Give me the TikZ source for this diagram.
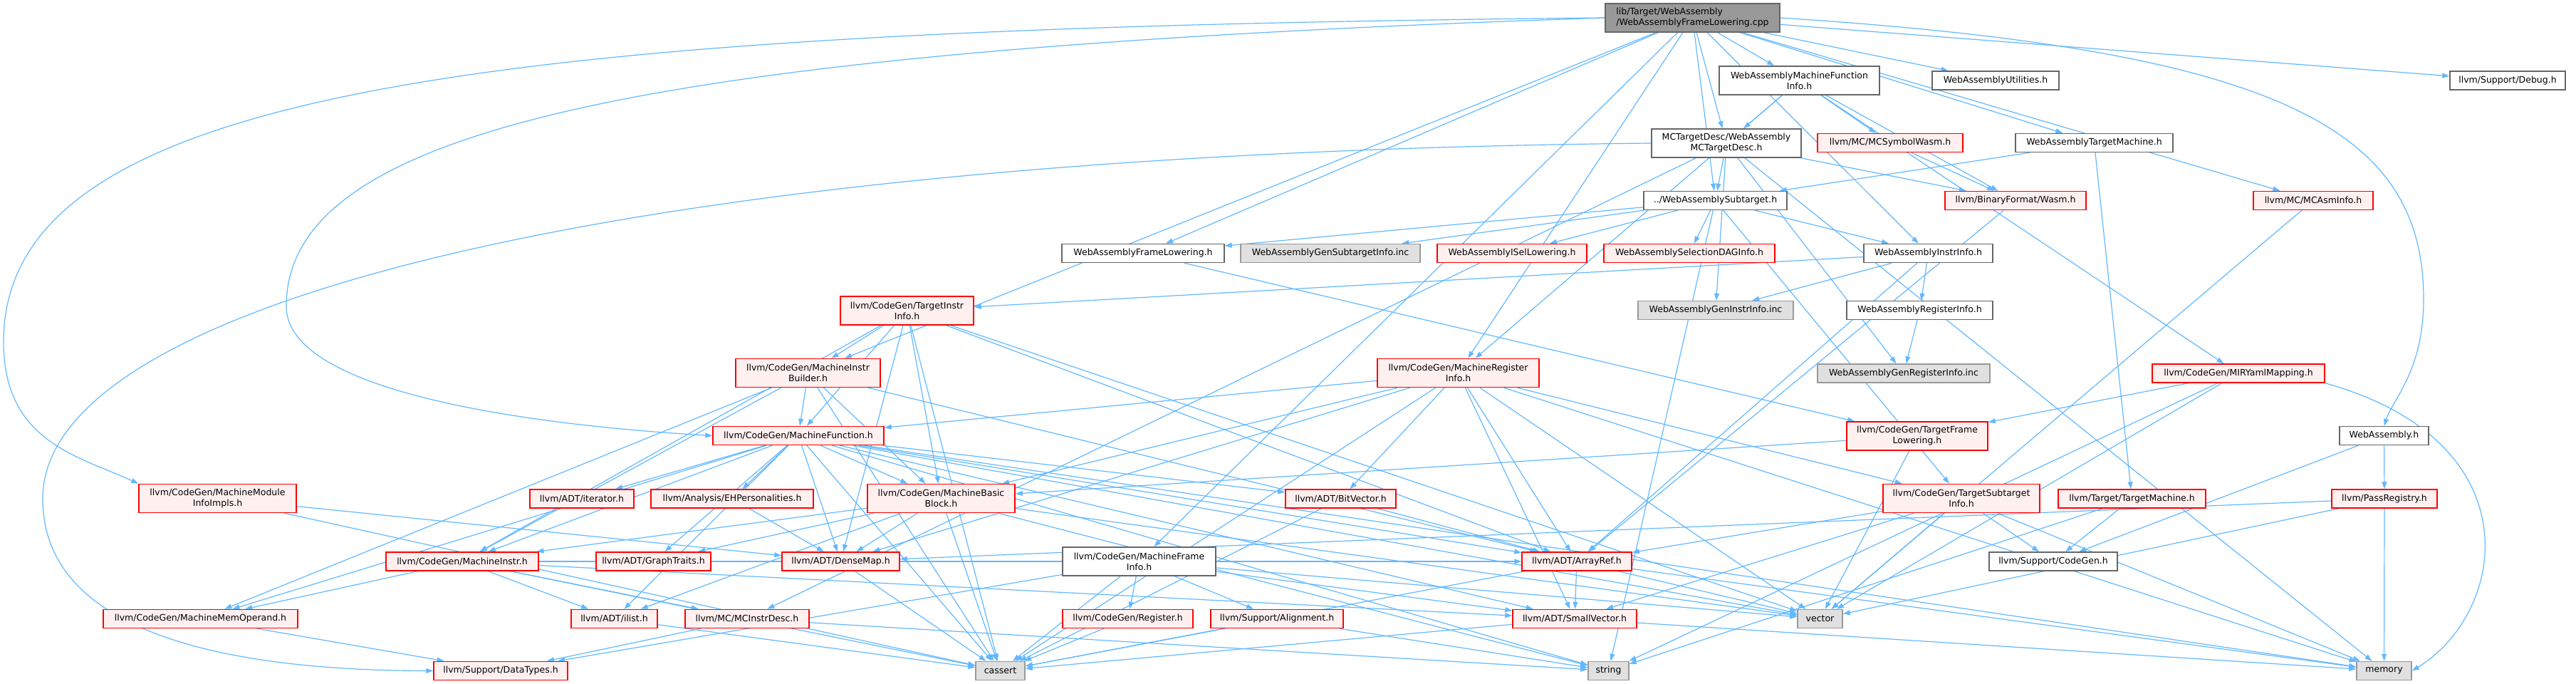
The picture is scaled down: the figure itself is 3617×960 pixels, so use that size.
\documentclass[tikz,border=0pt]{standalone}
\usepackage{fontspec}
\setmainfont{DejaVu Sans}
\usetikzlibrary{arrows.meta, backgrounds}
\definecolor{EdgeBlue}{HTML}{63B8FF}
\definecolor{BoxLine}{HTML}{666666}
\definecolor{RootFill}{HTML}{999999}
\definecolor{SysFill}{HTML}{E0E0E0}
\definecolor{SysLine}{HTML}{999999}
\definecolor{TruncFill}{HTML}{FFF0F0}
\definecolor{TruncLine}{HTML}{FF0000}
\tikzset{
    hdr/.style={draw=BoxLine, fill=white, line width=1.5pt, inner sep=0pt,
        minimum height=26pt, align=center, font=\fontsize{12.5}{15}\selectfont},
    twoline/.style={minimum height=40pt},
    rootfile/.style={hdr, twoline, fill=RootFill, align=left},
    trunc/.style={hdr, draw=TruncLine, fill=TruncFill},
    sys/.style={hdr, draw=SysLine, fill=SysFill},
    dep/.style={draw=EdgeBlue, line width=1.2pt, -{Triangle[length=10pt, width=7pt]}}
}

\begin{document}
\begin{tikzpicture}[x=1pt, y=-1pt]
\useasboundingbox (0,0) rectangle (3617,960);

% row 0 .. 3
\node[rootfile, minimum width=245pt] (root) at (2376.5,25) {lib/Target/WebAssembly\\/WebAssemblyFrameLowering.cpp};
\node[hdr, twoline, minimum width=225pt] (mfi) at (2526.5,113) {WebAssemblyMachineFunction\\Info.h};
\node[hdr, minimum width=178pt] (util) at (2802,113) {WebAssemblyUtilities.h};
\node[hdr, minimum width=162pt] (debug) at (3521,113) {llvm/Support/Debug.h};
\node[hdr, twoline, minimum width=210pt] (mcdesc) at (2424,201) {MCTargetDesc/WebAssembly\\MCTargetDesc.h};
\node[trunc, minimum width=204pt] (symwasm) at (2654,200.5) {llvm/MC/MCSymbolWasm.h};
\node[hdr, minimum width=221pt] (tm) at (2940.5,200.5) {WebAssemblyTargetMachine.h};
\node[hdr, minimum width=201pt] (subtarget) at (2408.5,281.5) {../WebAssemblySubtarget.h};
\node[trunc, minimum width=198pt] (wasm) at (2830,281.5) {llvm/BinaryFormat/Wasm.h};
\node[trunc, minimum width=168pt] (asminfo) at (3248,281.5) {llvm/MC/MCAsmInfo.h};

% row 4 .. 7
\node[hdr, minimum width=228pt] (wfl) at (1605,355.5) {WebAssemblyFrameLowering.h};
\node[sys, minimum width=252pt] (gensub) at (1868,355.5) {WebAssemblyGenSubtargetInfo.inc};
\node[trunc, minimum width=210pt] (isel) at (2123,355.5) {WebAssemblyISelLowering.h};
\node[trunc, minimum width=240pt] (seldag) at (2372,355.5) {WebAssemblySelectionDAGInfo.h};
\node[hdr, minimum width=181pt] (instrinfo) at (2707.5,355.5) {WebAssemblyInstrInfo.h};
\node[trunc, twoline, minimum width=187pt] (tii) at (1273.5,436) {llvm/CodeGen/TargetInstr\\Info.h};
\node[sys, minimum width=218pt] (geninstr) at (2409,435.5) {WebAssemblyGenInstrInfo.inc};
\node[hdr, minimum width=205pt] (reginfo) at (2695.5,435.5) {WebAssemblyRegisterInfo.h};
\node[trunc, twoline, minimum width=203pt] (mib) at (1134.5,523.5) {llvm/CodeGen/MachineInstr\\Builder.h};
\node[trunc, twoline, minimum width=227pt] (mri) at (2047.5,523.5) {llvm/CodeGen/MachineRegister\\Info.h};
\node[sys, minimum width=242pt] (genreg) at (2673,524) {WebAssemblyGenRegisterInfo.inc};
\node[trunc, minimum width=242pt] (miryaml) at (3143,524) {llvm/CodeGen/MIRYamlMapping.h};
\node[trunc, minimum width=240pt] (mf) at (1121,611.5) {llvm/CodeGen/MachineFunction.h};
\node[trunc, twoline, minimum width=198pt] (tfl) at (2692,612) {llvm/CodeGen/TargetFrame\\Lowering.h};
\node[hdr, minimum width=125pt] (wa) at (3347.5,611.5) {WebAssembly.h};

% row 8 .. 11
\node[trunc, twoline, minimum width=221pt] (mmii) at (305.5,699.5) {llvm/CodeGen/MachineModule\\InfoImpls.h};
\node[trunc, minimum width=146pt] (iter) at (817,700) {llvm/ADT/iterator.h};
\node[trunc, minimum width=228pt] (ehp) at (1028,700) {llvm/Analysis/EHPersonalities.h};
\node[trunc, twoline, minimum width=207pt] (mbb) at (1321.5,699.5) {llvm/CodeGen/MachineBasic\\Block.h};
\node[trunc, minimum width=155pt] (bitvec) at (1882.5,700) {llvm/ADT/BitVector.h};
\node[trunc, twoline, minimum width=220pt] (tsi) at (2754,699.5) {llvm/CodeGen/TargetSubtarget\\Info.h};
\node[trunc, minimum width=207pt] (ttm) at (2993.5,700) {llvm/Target/TargetMachine.h};
\node[trunc, minimum width=148pt] (pass) at (3348,700) {llvm/PassRegistry.h};
\node[trunc, minimum width=214pt] (mi) at (649,788) {llvm/CodeGen/MachineInstr.h};
\node[trunc, minimum width=161pt] (graph) at (917.5,788) {llvm/ADT/GraphTraits.h};
\node[trunc, minimum width=165pt] (densemap) at (1180.5,788) {llvm/ADT/DenseMap.h};
\node[hdr, twoline, minimum width=215pt] (frameinfo) at (1599.5,788) {llvm/CodeGen/MachineFrame\\Info.h};
\node[trunc, minimum width=154pt] (arrayref) at (2214,788) {llvm/ADT/ArrayRef.h};
\node[hdr, minimum width=180pt] (cg) at (2883,788) {llvm/Support/CodeGen.h};
\node[trunc, minimum width=273pt] (mmo) at (281.5,868.5) {llvm/CodeGen/MachineMemOperand.h};
\node[trunc, minimum width=121pt] (ilist) at (862.5,868.5) {llvm/ADT/ilist.h};
\node[trunc, minimum width=174pt] (mcid) at (1049,868.5) {llvm/MC/MCInstrDesc.h};
\node[trunc, minimum width=183pt] (reg) at (1583.5,868.5) {llvm/CodeGen/Register.h};
\node[trunc, minimum width=186pt] (align) at (1793,868.5) {llvm/Support/Alignment.h};
\node[trunc, minimum width=174pt] (smallvec) at (2211,868.5) {llvm/ADT/SmallVector.h};
\node[sys, minimum width=63pt] (vector) at (2555.5,868.5) {vector};
\node[trunc, minimum width=188pt] (datatypes) at (703,941.5) {llvm/Support/DataTypes.h};
\node[sys, minimum width=69pt] (cassert) at (1404.5,941.5) {cassert};
\node[sys, minimum width=57pt] (string) at (2258.5,941.5) {string};
\node[sys, minimum width=77pt] (memory) at (3347.5,941.5) {memory};

\begin{scope}[on background layer]
\foreach \src/\dst in {root/mfi, root/mcdesc, root/subtarget, root/util, root/debug, root/tm,
    root/asminfo, root/instrinfo, root/wfl, root/mib, root/mri, root/frameinfo,
    mfi/mcdesc, mfi/symwasm, mfi/wasm, mfi/miryaml, mfi/mri,
    mcdesc/subtarget, mcdesc/wasm, mcdesc/mcid, mcdesc/memory, mcdesc/geninstr, mcdesc/genreg,
    tm/subtarget, tm/ttm, symwasm/wasm,
    subtarget/wfl, subtarget/gensub, subtarget/isel, subtarget/seldag, subtarget/instrinfo,
    subtarget/tsi, subtarget/string,
    wasm/arrayref, asminfo/vector, wfl/tfl,
    instrinfo/geninstr, instrinfo/reginfo, instrinfo/tii, instrinfo/arrayref, reginfo/genreg,
    tii/mib, tii/mf, tii/mbb, tii/mi, tii/densemap, tii/arrayref, tii/cassert, tii/vector,
    mib/mf, mib/mbb, mib/mi, mib/mmo, mib/arrayref, mib/cassert,
    mri/mf, mri/mbb, mri/bitvec, mri/arrayref, mri/smallvec, mri/tsi, mri/densemap,
    mri/cassert, mri/memory, mri/vector,
    mf/mmo, mf/mi, mf/mbb, mf/ehp, mf/iter, mf/graph, mf/ilist, mf/densemap, mf/arrayref,
    mf/bitvec, mf/smallvec, mf/cassert, mf/memory, mf/string, mf/vector,
    tfl/mbb, tfl/vector, miryaml/tfl, miryaml/vector, miryaml/string,
    wa/pass, wa/cg, pass/memory, pass/densemap, pass/vector, ttm/cg, ttm/string,
    tsi/arrayref, tsi/smallvec, tsi/vector, tsi/cg, tsi/memory,
    mbb/mi, mbb/graph, mbb/ilist, mbb/densemap, mbb/cassert, mbb/string, mbb/vector,
    mi/mmo, mi/ilist, mi/mcid, mi/cassert, mi/arrayref, mi/smallvec,
    mmo/datatypes, mmii/densemap, mmii/cassert, ehp/densemap, densemap/cassert,
    frameinfo/reg, frameinfo/align, frameinfo/datatypes, frameinfo/cassert, frameinfo/vector,
    frameinfo/smallvec, reg/cassert, align/cassert, align/string,
    bitvec/arrayref, bitvec/cassert, mcid/datatypes, mcid/string, ilist/cassert,
    arrayref/smallvec, arrayref/vector, arrayref/cassert, arrayref/memory,
    smallvec/cassert, smallvec/memory}
    \draw[dep] (\src) -- (\dst);

% long detours round the sides
\draw[dep] (root.west) .. controls (700,40) and (5,120) .. (5,480)
    .. controls (5,620) and (110,640) .. (mmii.north west);
\draw[dep] (root.west) .. controls (900,70) and (402,180) .. (402,430)
    .. controls (402,560) and (800,600) .. (mf.west);
\draw[dep] (mcdesc.west) .. controls (900,215) and (60,420) .. (60,700)
    .. controls (60,900) and (350,941) .. (datatypes.west);
\draw[dep] (root.east) .. controls (3200,70) and (3403,180) .. (3403,420)
    .. controls (3403,520) and (3360,560) .. (wa.north);
\draw[dep] (miryaml.south east) .. controls (3560,620) and (3520,860) .. (memory.east);
\end{scope}
\end{tikzpicture}
\end{document}
